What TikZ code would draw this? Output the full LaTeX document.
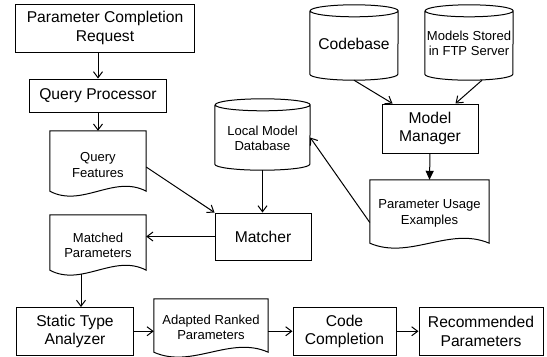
\documentclass[tikz,border=0pt]{standalone}
\usepackage{fontspec}
\setmainfont{Liberation Sans}
\usetikzlibrary{arrows.meta,calc}

% Outline of a database cylinder drawn over a named (invisible) node.
% #1 = node name, #2 = half width of the node
\newcommand\dbcylinder[2]{%
  \draw[outline]
    ([yshift=-6bp]#1.north west) -- ([yshift=6bp]#1.south west)
    arc[start angle=180,end angle=360,x radius=#2,y radius=6bp]
    -- ([yshift=-6bp]#1.north east)
    arc[start angle=0,end angle=180,x radius=#2,y radius=6bp]
    arc[start angle=180,end angle=360,x radius=#2,y radius=6bp];
}
% Outline of a document shape (wavy bottom edge) over a named node.
\newcommand\docoutline[1]{%
  \draw[outline]
    (#1.south west) -- (#1.north west) -- (#1.north east) -- (#1.south east)
    .. controls ($(#1.south east)!1/3!(#1.south west)+(0,-17)$)
       and ($(#1.south east)!2/3!(#1.south west)+(0,17)$) .. (#1.south west)
    -- cycle;
}

\begin{document}
\begin{tikzpicture}[x=1bp,y=-1bp,
  outline/.style={draw=black,line width=1bp,line join=miter},
  bigtext/.style={font=\fontsize{15.7}{18.5}\selectfont},
  smalltext/.style={font=\fontsize{13.1}{15.5}\selectfont},
  procbox/.style={outline,bigtext,align=center,inner sep=0pt},
  shapenode/.style={inner sep=0pt},
  lowtext/.style={label={[smalltext,align=center,inner sep=0pt,yshift=-#1]center:}},
  inlabel/.style={smalltext,align=center,inner sep=0pt},
  conn/.style={line width=1bp,-{Straight Barb[length=6bp,width=9bp,line width=1bp]}},
  fillconn/.style={line width=1bp,-{Triangle[length=9bp,width=8bp]}}]

\useasboundingbox[fill=white] (0,0) rectangle (547,356);

% process boxes
\node[procbox,minimum width=178bp,minimum height=48bp] (req) at (105,28)
  {Parameter Completion\\Request};
\node[procbox,minimum width=136bp,minimum height=33bp] (qp) at (98,95.5)
  {Query Processor};
\node[procbox,minimum width=96bp,minimum height=49bp] (mm) at (430,128.5)
  {Model\\Manager};
\node[procbox,minimum width=96bp,minimum height=47bp] (matcher) at (263,236.5)
  {Matcher};
\node[procbox,minimum width=116bp,minimum height=47.5bp] (sta) at (75,331.25)
  {Static Type\\Analyzer};
\node[procbox,minimum width=103bp,minimum height=47.5bp] (cc) at (344.5,331.25)
  {Code\\Completion};
\node[procbox,minimum width=124bp,minimum height=47.5bp] (rp) at (481,331.25)
  {Recommended\\Parameters};

% documents (label sits a little low, centred on the wavy outline)
\node[shapenode,minimum width=96bp,minimum height=60bp,
      label={[inlabel,yshift=-4bp]center:Query\\Features}] (qf) at (98,161) {};
\docoutline{qf}
\node[shapenode,minimum width=96bp,minimum height=55bp,
      label={[inlabel,yshift=-3bp]center:Matched\\Parameters}] (mp) at (98,242.5) {};
\docoutline{mp}
\node[shapenode,minimum width=119bp,minimum height=63bp,
      label={[inlabel,yshift=-2bp]center:Parameter Usage\\Examples}] (pue) at (429.5,211.5) {};
\docoutline{pue}
\node[shapenode,minimum width=114bp,minimum height=53bp,
      label={[inlabel,yshift=-2bp]center:Adapted Ranked\\Parameters}] (arp) at (211,325.5) {};
\docoutline{arp}

% databases
\node[shapenode,minimum width=88bp,minimum height=75bp,
      label={[bigtext,inner sep=0pt,yshift=-1bp]center:Codebase}] (cb) at (354,42.5) {};
\dbcylinder{cb}{44bp}
\node[shapenode,minimum width=88bp,minimum height=75bp,
      label={[inlabel,yshift=-1bp]center:Models Stored\\in FTP Server}] (ftp) at (469,42.5) {};
\dbcylinder{ftp}{44bp}
\node[shapenode,minimum width=95bp,minimum height=71bp,
      label={[inlabel,yshift=-4bp]center:Local Model\\Database}] (lmd) at (262.5,134.5) {};
\dbcylinder{lmd}{47.5bp}

% connectors
\draw[conn] (req.south -| qp.north) -- (qp.north);
\draw[conn] (qp.south) -- (qf.north);
\draw[conn] ([yshift=-6bp]qf.east) -- (matcher.north west);
\draw[conn] (lmd.south) -- (lmd.south |- matcher.north);
\draw[conn] (matcher.west) -- (mp.east |- matcher.west);
\coordinate (mpfoot) at (81,274);
\draw[conn] (mpfoot) -- (mpfoot |- sta.north);
\draw[conn] (sta.east) -- (arp.west |- sta.east);
\draw[conn] (arp.east |- cc.west) -- (cc.west);
\draw[conn] (cc.east) -- (rp.west);
\draw[conn] (cb.south) -- ($(mm.north west)+(11,0)$);
\draw[conn] ([xshift=13bp]ftp.south) -- ($(mm.north east)+(-23,0)$);
\draw[fillconn] (mm.south) -- (pue.north);
\draw[conn] ([yshift=-11bp]pue.west) -- ([yshift=-3bp]lmd.east);

\end{tikzpicture}
\end{document}
